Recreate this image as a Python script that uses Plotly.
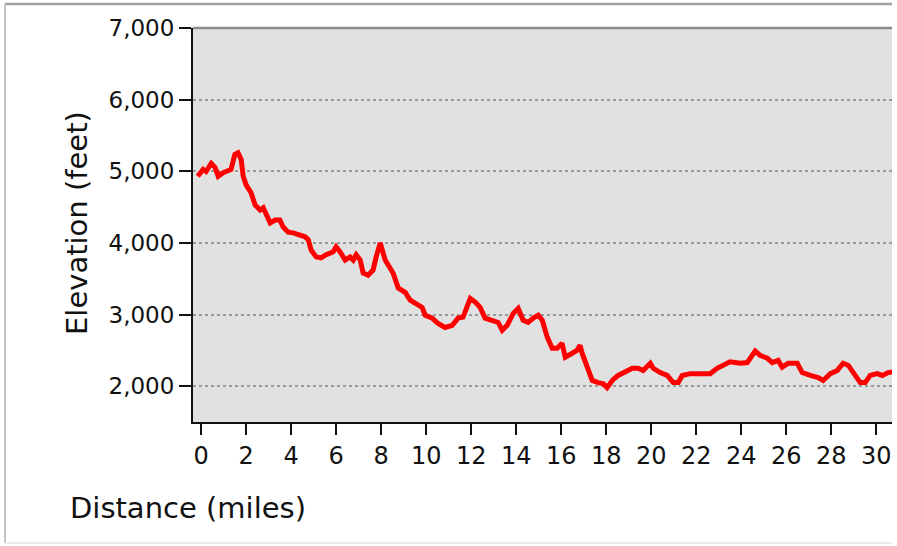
import plotly.graph_objects as go

distance_mi = [-0.15, 0.09, 0.22, 0.45, 0.62, 0.76, 0.98, 1.2, 1.33, 1.5, 1.64, 1.78, 1.87, 2.0,
               2.22, 2.4, 2.62, 2.76, 2.89, 3.07, 3.29, 3.5, 3.64, 3.87, 4.09, 4.4, 4.62, 4.76,
               4.89, 5.11, 5.33, 5.56, 5.87, 6.0, 6.18, 6.4, 6.62, 6.76, 6.89, 7.07, 7.2, 7.42,
               7.64, 7.78, 7.96, 8.18, 8.4, 8.53, 8.76, 9.07, 9.29, 9.6, 9.82, 9.96, 10.27,
               10.53, 10.84, 11.16, 11.42, 11.64, 11.87, 11.96, 12.18, 12.4, 12.62, 12.93,
               13.2, 13.38, 13.6, 13.87, 14.09, 14.31, 14.53, 14.76, 14.98, 15.16, 15.38,
               15.6, 15.82, 16.04, 16.18, 16.49, 16.7, 16.84, 16.93, 17.16, 17.38, 17.64,
               17.87, 18.04, 18.27, 18.53, 18.84, 19.16, 19.42, 19.64, 19.96, 20.09, 20.4,
               20.71, 20.98, 21.2, 21.38, 21.73, 22.18, 22.62, 22.93, 23.2, 23.5, 23.96,
               24.27, 24.49, 24.62, 24.84, 25.16, 25.38, 25.64, 25.82, 26.09, 26.49, 26.71,
               27.07, 27.42, 27.64, 27.96, 28.27, 28.53, 28.76, 28.98, 29.29, 29.51, 29.73,
               30.04, 30.27, 30.53, 30.75]
elevation_ft = [4930, 5025, 4997, 5110, 5055, 4930, 4980, 5010, 5025, 5235, 5260, 5165, 4930, 4810,
                4700, 4530, 4460, 4490, 4390, 4280, 4320, 4320, 4225, 4150, 4140, 4110, 4085, 4045,
                3900, 3805, 3790, 3835, 3875, 3945, 3875, 3760, 3805, 3760, 3835, 3760, 3580, 3550,
                3620, 3805, 4000, 3760, 3665, 3580, 3370, 3310, 3200, 3130, 3100, 2990, 2950,
                2875, 2820, 2850, 2950, 2965, 3130, 3225, 3175, 3100, 2950, 2920,
                2890, 2780, 2850, 3015, 3085, 2920, 2890, 2950, 2990, 2920, 2685,
                2530, 2530, 2600, 2405, 2460, 2500, 2570, 2460, 2265, 2080, 2050,
                2035, 1980, 2080, 2150, 2190, 2250, 2250, 2220, 2320, 2250, 2190,
                2150, 2050, 2050, 2150, 2175, 2175, 2175, 2250, 2290, 2340, 2320,
                2330, 2430, 2490, 2430, 2390, 2330, 2360, 2265, 2320, 2320, 2190,
                2150, 2120, 2080, 2175, 2220, 2320, 2290, 2190, 2050, 2050, 2150,
                2175, 2150, 2190, 2200]

x_ticks = list(range(0, 31, 2))
y_ticks = [2000, 3000, 4000, 5000, 6000, 7000]
y_tick_labels = ["2,000", "3,000", "4,000", "5,000", "6,000", "7,000"]

W, H = 897, 546
L, R, T, B = 193, 5, 28, 124
pw, ph = W - L - R, H - T - B


def px(x):
    return (x - L) / pw


def py(y):
    return (H - B - y) / ph


fig = go.Figure()
fig.add_trace(go.Scatter(x=distance_mi, y=elevation_ft, mode="lines",
                         line=dict(color="#ff0000", width=5), hoverinfo="skip"))

yfont = dict(family="DejaVu Sans", size=23, color="#111111")
xfont = dict(family="DejaVu Sans", size=24, color="#111111")
fig.update_layout(
    width=W, height=H,
    margin=dict(l=L, r=R, t=T, b=B, pad=0),
    paper_bgcolor="white", plot_bgcolor="#e1e1e1",
    showlegend=False,
    font=yfont,
    xaxis=dict(range=[-0.36, 30.7], tickvals=x_ticks, ticks="outside", ticklen=11,
               tickwidth=2, tickcolor="#111", showline=True, linecolor="#111", linewidth=2,
               showgrid=False, zeroline=False, tickfont=xfont),
    yaxis=dict(range=[1500, 7000], tickvals=y_ticks, ticktext=y_tick_labels,
               ticks="outside", ticklen=12, tickwidth=2, tickcolor="#111",
               showline=True, linecolor="#111", linewidth=2, showgrid=True,
               gridcolor="#9a9a9a", gridwidth=1.5, griddash="dot", zeroline=False,
               tickfont=yfont),
    shapes=[
        # top border of plot area
        dict(type="line", xref="paper", yref="paper", x0=0, x1=1, y0=1, y1=1,
             line=dict(color="#8c8c8c", width=2.5)),
        # outer frame
        dict(type="line", xref="paper", yref="paper", x0=px(5), x1=px(892), y0=py(4), y1=py(4),
             line=dict(color="#a0a0a0", width=2.5)),
        dict(type="line", xref="paper", yref="paper", x0=px(5), x1=px(5), y0=py(4), y1=py(543),
             line=dict(color="#c4c4c4", width=2)),
        dict(type="line", xref="paper", yref="paper", x0=px(5), x1=px(892), y0=py(543), y1=py(543),
             line=dict(color="#e4e4e4", width=1.5)),
    ],
    annotations=[
        dict(text="Elevation (feet)", xref="paper", yref="paper", x=px(77), y=py(223),
             textangle=-90, showarrow=False, xanchor="center", yanchor="middle",
             font=dict(family="DejaVu Sans", size=29, color="#111111")),
        dict(text="Distance (miles)", xref="paper", yref="paper", x=px(68), y=py(508),
             showarrow=False, xanchor="left", yanchor="middle",
             font=dict(family="DejaVu Sans", size=29, color="#111111")),
    ],
)

fig.write_html("out.html", config={"displayModeBar": False},
               post_script="document.body.style.margin='0';document.body.style.overflow='hidden';")
